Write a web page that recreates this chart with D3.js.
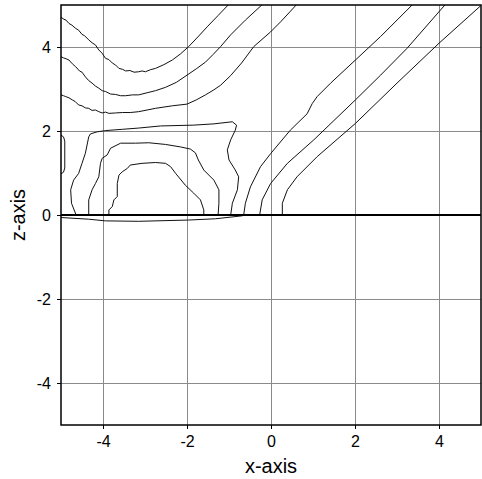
<!DOCTYPE html>
<html>
<head>
<meta charset="utf-8">
<script src="https://cdn.jsdelivr.net/npm/d3@7"></script>
<style>
  html, body { margin: 0; padding: 0; background: #fff; }
  svg { display: block; }
  text { font-family: "Liberation Sans", Arial, sans-serif; fill: #000; }
</style>
</head>
<body>
<svg id="chart" width="482" height="479"></svg>
<script>
// Axis ticks
const xTicks = [-4, -2, 0, 2, 4];
const zTicks = [-4, -2, 0, 2, 4];

// Contour lines, each a list of [x, z] points
const contourA = [[-5.0,4.71],[-4.93,4.66],[-4.88,4.64],[-4.81,4.56],[-4.74,4.52],[-4.66,4.45],[-4.58,4.40],[-4.50,4.30],[-4.44,4.27],[-4.34,4.17],[-4.26,4.10],[-4.18,4.05],[-4.10,3.93],[-4.02,3.85],[-3.94,3.73],[-3.86,3.70],[-3.78,3.62],[-3.70,3.57],[-3.62,3.49],[-3.54,3.47],[-3.46,3.43],[-3.36,3.44],[-3.26,3.40],[-3.15,3.41],[-3.07,3.43],[-2.99,3.41],[-2.87,3.46],[-2.75,3.49],[-2.55,3.58],[-2.35,3.69],[-2.15,3.84],[-1.96,4.01],[-1.74,4.24],[-1.52,4.48],[-1.26,4.75],[-1.02,5.0]];
const contourB = [[-5.0,3.77],[-4.94,3.74],[-4.88,3.72],[-4.81,3.69],[-4.73,3.60],[-4.65,3.53],[-4.56,3.43],[-4.50,3.40],[-4.42,3.29],[-4.34,3.20],[-4.26,3.14],[-4.18,3.07],[-4.10,3.02],[-4.02,2.96],[-3.94,2.94],[-3.82,2.88],[-3.70,2.87],[-3.58,2.84],[-3.46,2.84],[-3.30,2.86],[-3.15,2.86],[-2.95,2.91],[-2.75,2.96],[-2.51,3.04],[-2.25,3.16],[-2.00,3.33],[-1.78,3.48],[-1.56,3.64],[-1.38,3.82],[-1.20,4.01],[-0.96,4.29],[-0.61,4.64],[-0.22,5.0]];
const contourC = [[-5.0,2.86],[-4.94,2.84],[-4.89,2.82],[-4.81,2.79],[-4.73,2.74],[-4.66,2.70],[-4.58,2.62],[-4.50,2.60],[-4.42,2.55],[-4.34,2.54],[-4.26,2.49],[-4.18,2.50],[-4.10,2.46],[-4.02,2.43],[-3.94,2.45],[-3.86,2.42],[-3.70,2.43],[-3.54,2.44],[-3.35,2.44],[-3.15,2.46],[-2.95,2.50],[-2.75,2.54],[-2.35,2.60],[-2.00,2.64],[-1.78,2.74],[-1.56,2.86],[-1.36,2.98],[-1.20,3.09],[-0.96,3.32],[-0.70,3.62],[-0.41,4.01],[-0.01,4.36],[0.23,4.60],[0.60,5.0]];
const contourD = [[-4.64,0.0],[-4.75,0.28],[-4.77,0.60],[-4.70,0.83],[-4.58,0.99],[-4.50,1.23],[-4.42,1.47],[-4.34,1.86],[-4.30,1.93],[-4.14,1.98],[-3.94,2.01],[-3.54,2.04],[-3.15,2.07],[-2.63,2.12],[-1.84,2.14],[-1.36,2.17],[-0.92,2.22],[-0.82,2.14],[-0.85,2.02],[-0.96,1.79],[-1.04,1.55],[-1.00,1.31],[-0.85,1.07],[-0.77,0.91],[-0.80,0.60],[-0.92,0.28],[-0.96,0.0]];
const contourE = [[-4.34,0.0],[-4.34,0.36],[-4.26,0.60],[-4.18,0.75],[-4.10,0.91],[-4.06,1.23],[-4.02,1.35],[-3.90,1.43],[-3.82,1.59],[-3.58,1.71],[-3.23,1.71],[-2.91,1.72],[-2.51,1.68],[-2.15,1.62],[-1.92,1.57],[-1.80,1.48],[-1.73,1.31],[-1.60,1.07],[-1.36,0.83],[-1.24,0.60],[-1.24,0.28],[-1.26,0.0]];
const contourF = [[-3.86,0.0],[-3.86,0.12],[-3.78,0.20],[-3.74,0.36],[-3.66,0.44],[-3.66,0.75],[-3.62,0.95],[-3.54,1.03],[-3.42,1.11],[-3.35,1.19],[-3.07,1.23],[-2.75,1.25],[-2.51,1.23],[-2.39,1.15],[-2.27,0.99],[-2.04,0.71],[-1.84,0.52],[-1.68,0.36],[-1.60,0.12],[-1.60,0.0]];
const contourG = [[-5.0,1.90],[-4.94,1.86],[-4.91,1.76],[-4.91,1.12],[-4.94,1.02],[-5.0,0.98]];
const contourLens = [[-5.0,-0.06],[-4.34,-0.10],[-3.94,-0.14],[-3.15,-0.15],[-1.96,-0.12],[-1.32,-0.09],[-0.69,-0.02],[-0.63,0.0]];
const contourR1 = [[-0.65,0.0],[-0.61,0.28],[-0.49,0.67],[-0.25,1.15],[-0.01,1.46],[0.46,2.02],[0.86,2.41],[0.98,2.65],[1.10,2.82],[1.42,3.14],[2.01,3.69],[2.61,4.25],[3.36,5.0]];
const contourR2 = [[-0.27,0.0],[-0.21,0.36],[-0.01,0.75],[0.39,1.23],[1.02,1.79],[2.01,2.74],[2.61,3.33],[3.24,3.97],[4.14,5.0]];
const contourR3 = [[0.27,0.0],[0.27,0.28],[0.39,0.60],[0.62,0.91],[1.10,1.39],[2.01,2.18],[3.00,3.14],[4.00,4.09],[4.99,4.98]];

const contours = [contourA, contourB, contourC, contourD, contourE, contourF, contourG, contourLens, contourR1, contourR2, contourR3];

// Boundary line along z = 0
const boundary = [[-5, 0], [5, 0]];

const margin = { left: 61, top: 5, width: 420, height: 420 };
const svg = d3.select("#chart");

const x = d3.scaleLinear().domain([-5, 5]).range([margin.left, margin.left + margin.width]);
const z = d3.scaleLinear().domain([-5, 5]).range([margin.top + margin.height, margin.top]);

const plot = svg.append("g");

// Grid
plot.append("g").selectAll("line").data(xTicks).join("line")
  .attr("x1", d => x(d)).attr("x2", d => x(d))
  .attr("y1", z(-5)).attr("y2", z(5))
  .attr("stroke", "#8a8a8a").attr("stroke-width", 1).attr("shape-rendering", "crispEdges");
plot.append("g").selectAll("line").data(zTicks).join("line")
  .attr("y1", d => z(d)).attr("y2", d => z(d))
  .attr("x1", x(-5)).attr("x2", x(5))
  .attr("stroke", "#8a8a8a").attr("stroke-width", 1).attr("shape-rendering", "crispEdges");

// Contours
const line = d3.line().x(d => x(d[0])).y(d => z(d[1])).curve(d3.curveLinear);
plot.append("g").selectAll("path").data(contours).join("path")
  .attr("d", line)
  .attr("fill", "none")
  .attr("stroke", "#111")
  .attr("stroke-width", 1);

plot.append("path").attr("d", line(boundary))
  .attr("fill", "none").attr("stroke", "#000").attr("stroke-width", 2);

// Axes
const xAxis = d3.axisBottom(x).tickValues(xTicks).tickSize(4).tickPadding(7).tickFormat(d3.format("d"));
const zAxis = d3.axisLeft(z).tickValues(zTicks).tickSize(4).tickPadding(6).tickFormat(d3.format("d"));

const gx = svg.append("g").attr("transform", `translate(0,${margin.top + margin.height})`).call(xAxis);
const gz = svg.append("g").attr("transform", `translate(${margin.left},0)`).call(zAxis);
[gx, gz].forEach(g => {
  g.select(".domain").remove();
  g.selectAll("line").attr("stroke", "#000");
  g.selectAll("text").attr("font-size", 16).attr("font-family", "'Liberation Sans', Arial, sans-serif");
});
gx.selectAll("text").text(d => d < 0 ? "-" + Math.abs(d) : d);
gz.selectAll("text").text(d => d < 0 ? "-" + Math.abs(d) : d);

// Frame
svg.append("rect")
  .attr("x", margin.left).attr("y", margin.top)
  .attr("width", margin.width).attr("height", margin.height)
  .attr("fill", "none").attr("stroke", "#000").attr("stroke-width", 1.5);

// Axis titles
svg.append("text")
  .attr("x", x(0)).attr("y", 473)
  .attr("text-anchor", "middle").attr("font-size", 20)
  .text("x-axis");
svg.append("text")
  .attr("transform", `translate(25,${z(0)}) rotate(-90)`)
  .attr("text-anchor", "middle").attr("font-size", 20)
  .text("z-axis");
</script>
</body>
</html>
